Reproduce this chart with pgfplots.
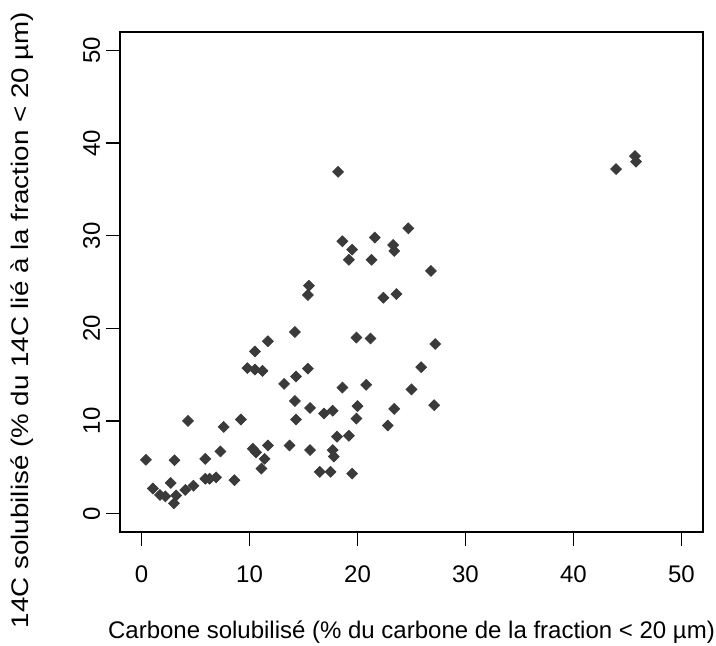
\documentclass[border=0pt]{standalone}
\usepackage{fontspec}
\setmainfont{Liberation Sans}
\usepackage{pgfplots}
\pgfplotsset{compat=1.18}
\definecolor{pt}{HTML}{3A3A3A}
\begin{document}
\fontsize{12}{14}\selectfont
\begin{tikzpicture}
\path[use as bounding box] (-60pt,-56.5pt) rectangle (298pt,266pt);
\begin{axis}[
  at={(0,0)}, anchor=south west,
  scale only axis, width=291.5pt, height=250pt,
  xmin=-2, xmax=52, ymin=-2, ymax=52,
  xtick={0,10,20,30,40,50}, ytick={0,10,20,30,40,50},
  tick align=outside, tick pos=left,
  major tick length=6.8pt,
  tick style={black, line width=0.7pt},
  axis line style={black, line width=0.8pt},
  ticklabel style={font=\fontsize{12}{14}\selectfont},
  /pgf/number format/assume math mode=true,
  xticklabel shift=5.7pt,
  yticklabel style={rotate=90, anchor=south},
  yticklabel shift=-1pt,
  xlabel={Carbone solubilisé (\% du carbone de la fraction < 20 µm)},
  ylabel={14C solubilisé (\% du 14C lié à la fraction < 20 µm)},
  xlabel style={at={(axis description cs:0.5,-0.2)}, anchor=center, font=\fontsize{12}{14}\selectfont},
  ylabel style={at={(axis description cs:-0.168,0.424)}, anchor=center, font=\fontsize{12}{14}\selectfont, xscale=1.155},
]
\addplot[only marks, mark=square*, mark size=1.9pt, color=pt, mark options={rotate=45, fill=pt, draw=pt}] coordinates {
(0.4,5.8) (1.05,2.7) (1.7,2.0) (2.2,1.85) (3.05,5.75) (2.7,3.3) (3.2,1.95) (3.0,1.1)
(4.05,2.55) (4.8,3.0) (4.3,10.0) (5.9,5.9) (5.9,3.75) (6.3,3.75) (6.9,3.9) (7.3,6.7)
(7.6,9.35) (8.6,3.6) (9.2,10.15) (10.3,7.0) (10.6,6.6) (11.7,7.35) (11.4,5.9) (11.1,4.85)
(13.7,7.35) (15.6,6.85) (13.2,14.0) (14.2,12.15) (14.3,10.15) (15.6,11.4) (16.5,4.5) (17.5,4.5)
(19.5,4.3) (14.2,19.6) (11.7,18.6) (10.5,17.5) (9.8,15.7) (10.5,15.55) (11.2,15.4) (14.3,14.8)
(15.4,15.65) (19.9,19.0) (21.2,18.9) (18.6,13.6) (20.8,13.9) (16.9,10.8) (17.7,11.1) (20.0,11.6)
(19.9,10.25) (23.4,11.3) (22.8,9.5) (18.1,8.3) (19.2,8.4) (17.7,6.85) (17.8,6.15) (18.2,36.9)
(24.7,30.8) (21.6,29.8) (18.6,29.4) (19.5,28.5) (23.3,29.0) (23.4,28.35) (19.2,27.4) (21.3,27.4)
(26.8,26.2) (15.5,24.6) (15.4,23.6) (22.4,23.3) (23.6,23.7) (27.2,18.3) (25.9,15.8) (25.0,13.4)
(27.1,11.7) (43.95,37.2) (45.7,38.6) (45.8,38.0)
};
\end{axis}
\end{tikzpicture}
\end{document}
